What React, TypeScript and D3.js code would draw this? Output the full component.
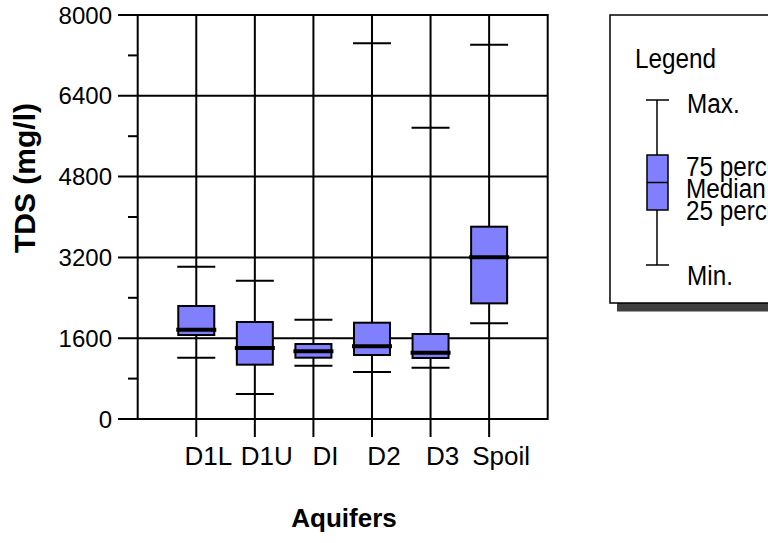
import React from 'react';
import * as d3 from 'd3';

const categories = ['D1L', 'D1U', 'DI', 'D2', 'D3', 'Spoil'];
const maxV = [3016, 2740, 1966, 7440, 5768, 7411];
const q3V = [2238, 1921, 1485, 1907, 1683, 3808];
const medV = [1768, 1406, 1340, 1439, 1313, 3201];
const q1V = [1663, 1076, 1214, 1267, 1208, 2290];
const minV = [1214, 495, 1056, 931, 1016, 1894];
const yTicks = [0, 1600, 3200, 4800, 6400, 8000];
const yMinor = [800, 2400, 4000, 5600, 7200];
const legendLabels = ['Max.', '75 percentile', 'Median', '25 percentile', 'Min.'];

const W = 768;
const H = 543;
const FONT = 'Arial, "Liberation Sans", Helvetica, sans-serif';
const FILL = '#8080ff';

function LText({ x, y, children }: { x: number; y: number; children: React.ReactNode }) {
  return (
    <text transform={`translate(${x},${y}) scale(0.9,1)`} fontSize={27}>{children}</text>
  );
}

export default function App() {
  const left = 137.7, right = 547.7, top = 15, bottom = 419;
  const x = d3.scaleLinear().domain([0, categories.length + 1]).range([left, right]);
  const y = d3.scaleLinear().domain([0, 8000]).range([bottom, top]);
  const boxW = 36;
  const capW = 38;

  const ly = d3.scaleLinear().domain([0, 1]).range([265, 100]);

  return (
    <svg width={W} height={H} style={{ position: 'absolute', left: 0, top: 0, background: '#fff' }}
      fontFamily={FONT}>
      <rect x={0} y={0} width={W} height={H} fill="#fff" />
      {yTicks.map(t => (
        <line key={'g' + t} x1={118} x2={right} y1={y(t)} y2={y(t)} stroke="#000" strokeWidth={2} />
      ))}
      {yMinor.map(t => (
        <line key={'m' + t} x1={128} x2={left} y1={y(t)} y2={y(t)} stroke="#000" strokeWidth={2} />
      ))}
      <line x1={left} x2={left} y1={top} y2={bottom} stroke="#000" strokeWidth={2} />
      <line x1={right} x2={right} y1={top - 1} y2={bottom + 1} stroke="#000" strokeWidth={2} />
      {categories.map((c, i) => (
        <line key={'v' + c} x1={x(i + 1)} x2={x(i + 1)} y1={top} y2={bottom + 18} stroke="#000" strokeWidth={2} />
      ))}
      {yTicks.map(t => (
        <text key={'tl' + t} x={112} y={y(t)} dy="0.36em" textAnchor="end" fontSize={24}>{t}</text>
      ))}
      {categories.map((c, i) => {
        const cx = x(i + 1);
        return (
          <g key={'b' + c}>
            <line x1={cx - capW / 2} x2={cx + capW / 2} y1={y(maxV[i])} y2={y(maxV[i])} stroke="#000" strokeWidth={2} />
            <line x1={cx - capW / 2} x2={cx + capW / 2} y1={y(minV[i])} y2={y(minV[i])} stroke="#000" strokeWidth={2} />
            <rect x={cx - boxW / 2} y={y(q3V[i])} width={boxW} height={y(q1V[i]) - y(q3V[i])}
              fill={FILL} stroke="#000" strokeWidth={2} />
            <line x1={cx - boxW / 2 - 2} x2={cx + boxW / 2 + 2} y1={y(medV[i])} y2={y(medV[i])} stroke="#000" strokeWidth={4} />
          </g>
        );
      })}
      {categories.map((c, i) => (
        <text key={'cl' + c} x={x(i + 1) + 12} y={465} textAnchor="middle" fontSize={26}>{c}</text>
      ))}
      <text x={344} y={527} textAnchor="middle" fontSize={26} fontWeight="bold">Aquifers</text>
      <text transform="translate(35,178) rotate(-90)" textAnchor="middle" fontSize={30} fontWeight="bold">TDS (mg/l)</text>

      <rect x={617} y={303} width={200} height={8.5} fill="#404040" />
      <rect x={610} y={15} width={200} height={288} fill="#fff" stroke="#000" strokeWidth={1.5} />
      <LText x={635} y={68}>Legend</LText>
      <line x1={657} x2={657} y1={ly(0)} y2={ly(1)} stroke="#000" strokeWidth={1.5} />
      <line x1={646} x2={669} y1={ly(1)} y2={ly(1)} stroke="#000" strokeWidth={1.5} />
      <line x1={646} x2={669} y1={ly(0)} y2={ly(0)} stroke="#000" strokeWidth={1.5} />
      <rect x={647} y={155} width={21} height={55} fill={FILL} stroke="#000" strokeWidth={1.5} />
      <line x1={647} x2={668} y1={182.5} y2={182.5} stroke="#000" strokeWidth={1.5} />
      <LText x={687} y={113}>{legendLabels[0]}</LText>
      <LText x={686} y={176}>{legendLabels[1]}</LText>
      <LText x={686} y={198}>{legendLabels[2]}</LText>
      <LText x={686} y={220}>{legendLabels[3]}</LText>
      <LText x={687} y={285}>{legendLabels[4]}</LText>
    </svg>
  );
}
